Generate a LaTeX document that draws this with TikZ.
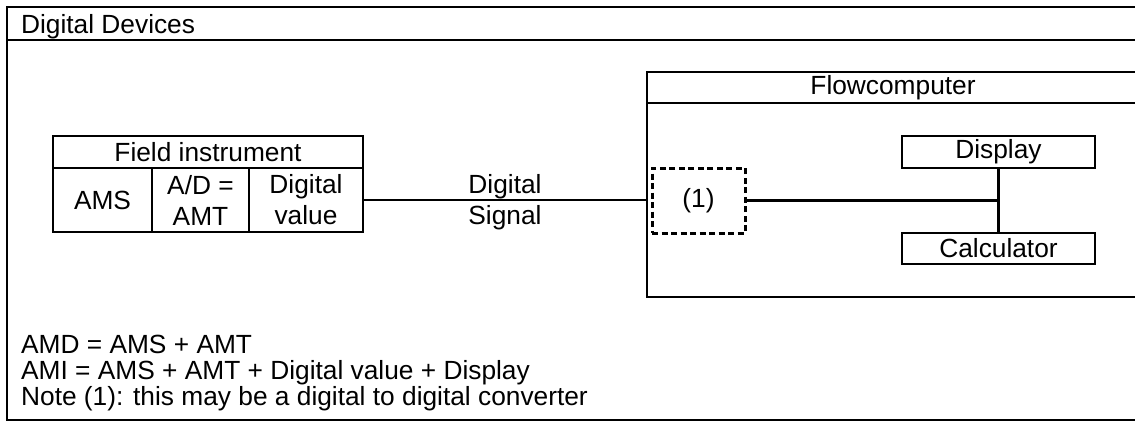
\documentclass[tikz,border=0pt]{standalone}
\usepackage{fontspec}
\setmainfont{Liberation Sans}
\begin{document}
\begin{tikzpicture}[x=1pt,y=-1pt,line width=2.3pt,
  txt/.style={font=\fontsize{26.3}{31}\selectfont},
  box/.style={draw, rectangle, inner sep=0pt, outer sep=0pt, txt, align=center},
  lbl/.style={txt, inner sep=0pt},
  dotbox/.style={box, dash pattern=on 6pt off 3.5pt, line width=3pt}]
\clip (0,0) rectangle (1135,421);
\fill[white] (0,0) rectangle (1135,421);
% outer frame
\draw (7,7) rectangle (1150,420);
\draw (7,40) -- (1150,40);
\node[lbl, anchor=base west] (hdr) at (20,33) {Digital Devices};
% field instrument
\node[box, minimum width=310pt, minimum height=32pt] (fit) at (208,152) {Field instrument};
\node[box, minimum width=99pt, minimum height=64pt] (ams) at (102.5,200) {AMS};
\node[box, minimum width=97pt, minimum height=64pt] (ad) at (200.5,200) {A/D =\\AMT};
\node[box, minimum width=114pt, minimum height=64pt] (dv) at (306,200) {Digital\\value};
% flowcomputer
\node[box, minimum width=492pt, minimum height=31pt] (fct) at (893,87.5) {Flowcomputer};
\node[box, minimum width=492pt, minimum height=194pt] (fc) at (893,200) {};
\node[dotbox, minimum width=93pt, minimum height=65pt] (conv) at (698.5,200.5) {(1)};
\node[box, minimum width=193pt, minimum height=32pt] (disp) at (998.5,152) {Display};
\node[box, minimum width=193pt, minimum height=31pt] (calc) at (998.5,248.5) {Calculator};
% connectors
\coordinate (fcin) at (dv.east -| fc.west);
\draw (dv.east) -- node[lbl, anchor=base, yshift=7pt] (sig1) {Digital}
                   node[lbl, anchor=base, yshift=-24pt] (sig2) {Signal} (fcin);
\coordinate (j) at (conv.east -| disp.south);
\draw (conv.east) -- (j);
\draw (disp.south) -- (calc.north);
% notes
\node[lbl, anchor=base west] (n1) at (20,353) {AMD = AMS + AMT};
\node[lbl, anchor=base west] (n2) at (20,379) {AMI = AMS + AMT + Digital value + Display};
\node[lbl, anchor=base west] (n3) at (20,405) {Note (1): this may be a digital to digital converter};
\end{tikzpicture}
\end{document}
